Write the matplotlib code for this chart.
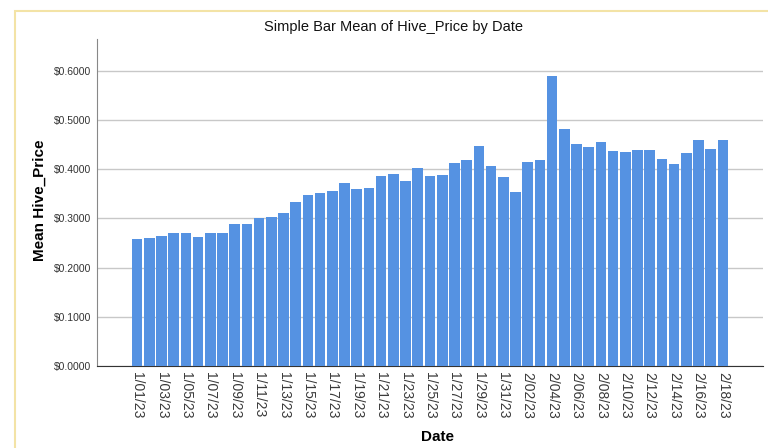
import matplotlib.pyplot as plt
from matplotlib.patches import Rectangle
import numpy as np

# Daily dates, labels shown every other day
dates = [f"1/{d:02d}/23" for d in range(1, 32)] + [f"2/{d:02d}/23" for d in range(1, 19)]

# Mean Hive price per day
hive_price = [
    0.259, 0.2605, 0.265, 0.271, 0.271, 0.263, 0.270, 0.271, 0.288, 0.288,
    0.301, 0.303, 0.311, 0.333, 0.347, 0.352, 0.356, 0.372, 0.360, 0.363,
    0.386, 0.391, 0.377, 0.403, 0.386, 0.389, 0.413, 0.419, 0.448, 0.407,
    0.384, 0.354, 0.414, 0.418, 0.590, 0.482, 0.452, 0.446, 0.455, 0.438,
    0.435, 0.439, 0.440, 0.420, 0.411, 0.434, 0.459, 0.441, 0.459,
]

yticks = [0.0, 0.1, 0.2, 0.3, 0.4, 0.5, 0.6]

plt.rcParams['font.family'] = ['Liberation Sans', 'DejaVu Sans']

fig = plt.figure(figsize=(7.68, 4.48), dpi=100)
fig.patch.set_facecolor('white')

# light yellow frame like the SPSS output viewer
fig.patches.append(Rectangle((15 / 768, -0.1), 1.2, 1 - 11 / 448 + 0.1,
                             transform=fig.transFigure, fill=False,
                             edgecolor='#F3E3A6', linewidth=1.5))

ax = fig.add_axes([97 / 768, 1 - 366 / 448, 666 / 768, 327 / 448])

x = np.arange(len(dates))
ax.bar(x, hive_price, width=0.87, color='#5592E2', edgecolor='none', zorder=3)

ax.set_xlim(-3.29, len(dates) - 1 + 3.29)
ax.set_ylim(0, 0.665)

ax.set_yticks(yticks)
ax.set_yticklabels([f"${v:.4f}" for v in yticks], fontsize=7.5, color='#333333')
ax.yaxis.grid(True, color='#C8C8C8', linewidth=1.0, zorder=0)
ax.tick_params(axis='both', length=0, pad=4)

ax.set_xticks(x[::2])
ax.set_xticklabels(dates[::2], rotation=270, fontsize=10, color='#3a3a3a')

for s in ['top', 'right']:
    ax.spines[s].set_visible(False)
ax.spines['left'].set_color('#888888')
ax.spines['bottom'].set_color('#333333')

fig.text(40 / 768, 1 - 200 / 448, 'Mean Hive_Price', fontsize=11, fontweight='bold',
         rotation=90, ha='center', va='center')
fig.text(437 / 768, 1 - 437 / 448, 'Date', fontsize=11, fontweight='bold',
         ha='center', va='center')
fig.text(393 / 768, 1 - 27 / 448, 'Simple Bar Mean of Hive_Price by Date',
         fontsize=10.5, ha='center', va='center', color='#111111')

fig.savefig('out.png', dpi=100)
